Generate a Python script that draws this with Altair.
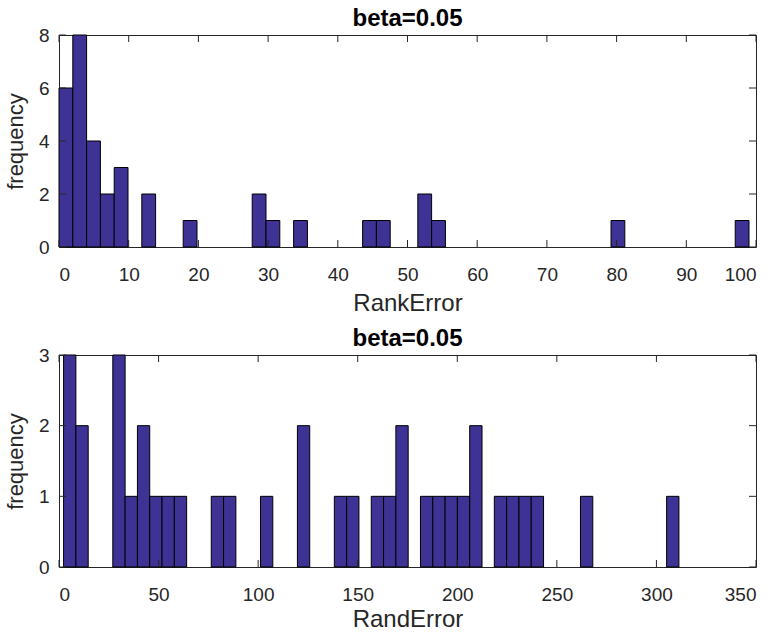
import altair as alt
import pandas as pd

# ---------------- data ----------------
rank_bin_lo = [0.00, 1.98, 3.96, 5.94, 7.92, 11.88, 17.82, 27.72, 29.70, 33.66,
               43.56, 45.54, 51.48, 53.46, 79.20, 97.02]
rank_bin_hi = [1.98, 3.96, 5.94, 7.92, 9.90, 13.86, 19.80, 29.70, 31.68, 35.64,
               45.54, 47.52, 53.46, 55.44, 81.18, 99.00]
rank_counts = [6, 8, 4, 2, 3, 2, 1, 2, 1, 1, 1, 1, 2, 1, 1, 1]

rand_bin_lo = [2.30, 8.48, 27.02, 33.20, 39.38, 45.56, 51.74, 57.92, 76.46, 82.64,
               101.18, 119.72, 138.26, 144.44, 156.80, 162.98, 169.16, 181.52,
               187.70, 193.88, 200.06, 206.24, 218.60, 224.78, 230.96, 237.14,
               261.86, 305.12]
rand_bin_hi = [8.48, 14.66, 33.20, 39.38, 45.56, 51.74, 57.92, 64.10, 82.64, 88.82,
               107.36, 125.90, 144.44, 150.62, 162.98, 169.16, 175.34, 187.70,
               193.88, 200.06, 206.24, 212.42, 224.78, 230.96, 237.14, 243.32,
               268.04, 311.30]
rand_counts = [3, 2, 3, 1, 2, 1, 1, 1, 1, 1, 1, 2, 1, 1, 1, 1, 2, 1, 1, 1, 1, 2,
               1, 1, 1, 1, 1, 1]

rank_xticks = [0, 10, 20, 30, 40, 50, 60, 70, 80, 90, 100]
rank_yticks = [0, 2, 4, 6, 8]
rand_xticks = [0, 50, 100, 150, 200, 250, 300, 350]
rand_yticks = [0, 1, 2, 3]

panel_title = "beta=0.05"
y_title = "frequency"
rank_x_title = "RankError"
rand_x_title = "RandError"

# ---------------- styling ----------------
W, H = 697, 212
TICK = 7
BAR = "#3E3294"
INK = "#262626"
FONT = "Liberation Sans"


def panel(lo, hi, counts, xticks, yticks, xtitle, xtitle_pad):
    df = pd.DataFrame({"lo": lo, "hi": hi, "count": counts})
    xdom = [xticks[0], xticks[-1]]
    ydom = [yticks[0], yticks[-1]]
    xs = alt.Scale(domain=xdom, nice=False, zero=False)
    ys = alt.Scale(domain=ydom, nice=False)
    xax = alt.Axis(values=xticks, format="d", titlePadding=xtitle_pad)
    yax = alt.Axis(values=yticks, format="d")

    bars = alt.Chart(df).mark_rect(
        fill=BAR, stroke="black", strokeWidth=1
    ).encode(
        x=alt.X("lo:Q", scale=xs, title=xtitle, axis=xax),
        x2="hi:Q",
        y=alt.Y("count:Q", scale=ys, title=y_title, axis=yax),
        y2=alt.datum(0),
    )

    xt = pd.DataFrame({"v": xticks})
    yt = pd.DataFrame({"v": yticks})
    xbot = alt.Chart(xt).mark_rule(color=INK, strokeWidth=1).encode(
        x=alt.X("v:Q", scale=xs, axis=xax, title=xtitle),
        y=alt.value(H - TICK), y2=alt.value(H))
    xtop = alt.Chart(xt).mark_rule(color=INK, strokeWidth=1).encode(
        x=alt.X("v:Q", scale=xs, axis=xax, title=xtitle),
        y=alt.value(0), y2=alt.value(TICK))
    yl = alt.Chart(yt).mark_rule(color=INK, strokeWidth=1).encode(
        y=alt.Y("v:Q", scale=ys, axis=yax, title=y_title),
        x=alt.value(0), x2=alt.value(TICK))
    yr = alt.Chart(yt).mark_rule(color=INK, strokeWidth=1).encode(
        y=alt.Y("v:Q", scale=ys, axis=yax, title=y_title),
        x=alt.value(W - TICK), x2=alt.value(W))

    return alt.layer(bars, xbot, xtop, yl, yr).properties(
        width=W, height=H,
        title=alt.TitleParams(panel_title, fontSize=24, fontWeight="bold",
                              font=FONT, color="black", offset=-5),
    )


top = panel(rank_bin_lo, rank_bin_hi, rank_counts, rank_xticks, rank_yticks,
            rank_x_title, 7)
bot = panel(rand_bin_lo, rand_bin_hi, rand_counts, rand_xticks, rand_yticks,
            rand_x_title, 3)

chart = alt.vconcat(top, bot, spacing=10).properties(
    padding={"left": 3, "top": 6, "right": 5, "bottom": 2},
    background="white",
).configure_view(
    stroke=INK, strokeWidth=1
).configure_axis(
    domain=False, ticks=False, grid=False,
    labelFont=FONT, labelFontSize=19, labelColor=INK,
    titleFont=FONT, titleFontWeight="normal", titleColor=INK,
).configure_axisX(
    labelPadding=18, titleFontSize=24,
).configure_axisY(
    labelPadding=10, titlePadding=11, titleFontSize=22,
)

chart.save("out.html", embed_options={"renderer": "svg", "actions": False})
